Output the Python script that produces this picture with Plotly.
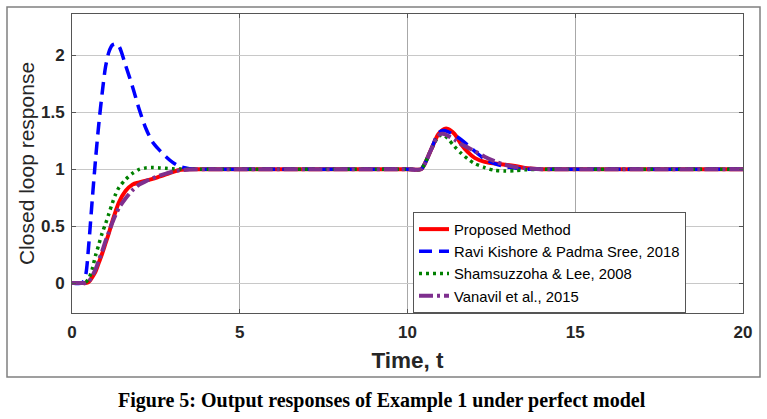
import plotly.graph_objects as go

# time samples (s)
t = [0, 0.3, 0.4, 0.5, 0.6, 0.7, 0.8, 0.9, 1.0, 1.1, 1.2, 1.3, 1.4, 1.6, 1.8, 2.0,
     2.2, 2.4, 2.6, 2.8, 3.0, 3.2, 3.5, 4.0, 5, 7, 10, 10.4, 10.5, 10.7, 10.9, 11.0,
     11.1, 11.2, 11.4, 11.6, 11.8, 12.0, 12.3, 12.6, 12.9, 13.2, 13.5, 14, 15, 17, 20]

proposed = [0, 0, 0, 0.01, 0.05, 0.10, 0.18, 0.26, 0.35, 0.44, 0.54, 0.63, 0.71, 0.81, 0.865, 0.885,
            0.90, 0.915, 0.935, 0.955, 0.975, 0.993, 1.0, 1.0, 1, 1, 1, 1.0, 1.04, 1.17, 1.30, 1.335,
            1.355, 1.355, 1.31, 1.22, 1.15, 1.10, 1.065, 1.05, 1.04, 1.028, 1.012, 1.0, 1, 1, 1]

ravi = [0, 0, 0.06, 0.34, 0.72, 1.08, 1.40, 1.67, 1.90, 2.03, 2.09, 2.10, 2.08, 1.91, 1.73, 1.53,
        1.36, 1.24, 1.17, 1.11, 1.06, 1.025, 1.005, 1.0, 1, 1, 1, 1.0, 1.04, 1.17, 1.31, 1.335,
        1.34, 1.33, 1.30, 1.26, 1.21, 1.16, 1.09, 1.05, 1.025, 1.01, 1.0, 1.0, 1, 1, 1]

shamsuzzoha = [0, 0, 0.005, 0.04, 0.12, 0.24, 0.34, 0.44, 0.52, 0.61, 0.70, 0.78, 0.84, 0.91, 0.963, 0.998,
               1.012, 1.015, 1.012, 1.008, 1.004, 1.002, 1.0, 1.0, 1, 1, 1, 1.0, 1.04, 1.17, 1.28, 1.30,
               1.295, 1.27, 1.20, 1.14, 1.09, 1.05, 1.015, 0.99, 0.985, 0.987, 0.995, 1.0, 1, 1, 1]

vanavil = [0, 0, 0, 0.015, 0.06, 0.12, 0.20, 0.28, 0.37, 0.45, 0.53, 0.60, 0.66, 0.745, 0.815, 0.865,
           0.895, 0.92, 0.943, 0.962, 0.978, 0.99, 0.998, 1.0, 1, 1, 1, 1.0, 1.04, 1.17, 1.29, 1.31,
           1.31, 1.295, 1.26, 1.22, 1.19, 1.16, 1.11, 1.07, 1.04, 1.02, 1.01, 1.0, 1, 1, 1]

names = ["Proposed Method", "Ravi Kishore & Padma Sree, 2018",
         "Shamsuzzoha & Lee, 2008", "Vanavil et al., 2015"]

W, H = 767, 419
L, R, T, B = 72, 24, 14, 106
pw, ph = W - L - R, H - T - B


def px_x(x):
    return (x - L) / pw


def px_y(y):
    return (H - B - y) / ph


fig = go.Figure()
fig.add_trace(go.Scatter(x=t, y=proposed, name=names[0], mode="lines",
                         line=dict(color="#ff0000", width=4, shape="spline", smoothing=0.8)))
fig.add_trace(go.Scatter(x=t, y=ravi, name=names[1], mode="lines",
                         line=dict(color="#0000ff", width=3.5, dash="13px,7px", shape="spline", smoothing=0.8)))
fig.add_trace(go.Scatter(x=t, y=shamsuzzoha, name=names[2], mode="lines",
                         line=dict(color="#008000", width=3.5, dash="3px,4px", shape="spline", smoothing=0.8)))
fig.add_trace(go.Scatter(x=t, y=vanavil, name=names[3], mode="lines",
                         line=dict(color="#7e2f8e", width=4, dash="14px,4px,3px,4px", shape="spline", smoothing=0.8)))

axis_font = dict(family="Arial, Liberation Sans", size=17, color="#262626", weight="bold")

fig.update_layout(
    width=W, height=H,
    margin=dict(l=L, r=R, t=T, b=B),
    paper_bgcolor="white", plot_bgcolor="white",
    font=dict(family="Arial, Liberation Sans", color="#262626"),
    xaxis=dict(range=[0, 20], dtick=5, showgrid=True, gridcolor="#a8a8a8", gridwidth=1,
               zeroline=False, showline=True, linecolor="#555555", linewidth=1, mirror="ticks",
               ticks="inside", ticklen=4, tickcolor="#555555", tickfont=axis_font,
               ticklabelstandoff=4,
               title=dict(text="Time, t", standoff=10,
                          font=dict(family="Arial, Liberation Sans", size=22.5, color="#262626", weight="bold"))),
    yaxis=dict(range=[-0.263, 2.364], dtick=0.5, showgrid=True, gridcolor="#c8c8c8", gridwidth=1,
               zeroline=False, showline=True, linecolor="#555555", linewidth=1, mirror="ticks",
               ticks="inside", ticklen=4, tickcolor="#555555", tickfont=axis_font,
               ticklabelstandoff=3,
               title=dict(text="Closed loop response", standoff=0,
                          font=dict(family="Arial, Liberation Sans", size=21, color="#262626"))),
    legend=dict(x=px_x(413), y=px_y(212), xanchor="left", yanchor="top",
                bgcolor="white", bordercolor="#555555", borderwidth=1,
                font=dict(family="Arial, Liberation Sans", size=14.8, color="#000000"),
                tracegroupgap=0),
    showlegend=True,
)

# outer frame around the figure
fig.add_shape(type="rect", xref="paper", yref="paper",
              x0=px_x(7), x1=px_x(760), y0=px_y(377), y1=px_y(7),
              line=dict(color="#808080", width=1.5), fillcolor="rgba(0,0,0,0)")

fig.add_annotation(text="Figure 5: Output responses of Example 1 under perfect model",
                   xref="paper", yref="paper", x=px_x(382), y=px_y(400),
                   xanchor="center", yanchor="middle", showarrow=False,
                   font=dict(family="Liberation Serif, Times New Roman", size=20, color="#000000", weight="bold"))

# drop the default body margin so the figure sits at the page corner
fig.write_html("out.html", config={"displayModeBar": False},
               post_script="document.body.style.margin='0';")
